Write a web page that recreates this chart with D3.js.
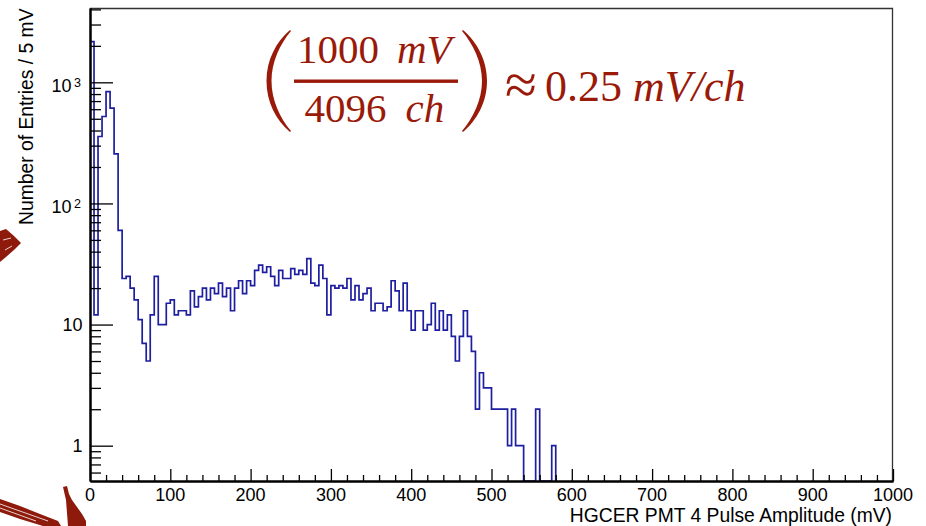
<!DOCTYPE html>
<html>
<head>
<meta charset="utf-8">
<script src="https://cdn.jsdelivr.net/npm/d3@7"></script>
<style>
  html, body { margin: 0; padding: 0; background: #ffffff; }
  svg { display: block; }
</style>
</head>
<body>
<svg id="chart" width="926" height="526"></svg>
<script>
// HGCER PMT 4 pulse amplitude spectrum, 5 mV bins starting at 0 mV.
// Bins beyond the last entry (575-1000 mV) are empty.
const binWidth = 5;
const counts = [
  2170, 12, 357, 522, 839, 612, 257, 60, 24, 25,
  20, 16, 11, 7, 5, 12, 25, 10, 10, 15,
  16, 12, 13, 13, 12, 19, 14, 17, 20, 16,
  20, 18, 22, 17, 20, 13, 20, 23, 18, 23,
  21, 28, 31, 27, 30, 25, 21, 28, 24, 24,
  29, 26, 28, 26, 35, 22, 21, 31, 24, 12,
  21, 20, 21, 20, 24, 16, 21, 16, 18, 20,
  13, 15, 15, 13, 14, 23, 19, 13, 22, 13,
  9, 13, 13, 9, 10, 15, 9, 13, 9, 12,
  8, 5, 8, 13, 8, 6, 2, 4, 3, 3,
  2, 2, 2, 2, 1, 2, 1, 1, 0, 0,
  0, 2, 0, 0, 0, 1
];

const xDomain = [0, 1000];
const yDomain = [0.511, 4107];
const xMajorTicks = [0, 100, 200, 300, 400, 500, 600, 700, 800, 900, 1000];
const xMinorTicks = d3.range(0, 1001, 20).filter(v => v % 100 !== 0);
const yMajorTicks = [1, 10, 100, 1000];
const yTickLabels = [
  { base: "1", exp: null },
  { base: "10", exp: null },
  { base: "10", exp: "2" },
  { base: "10", exp: "3" }
];
const yMinorTicks = [0.6, 0.7, 0.8, 0.9, 2, 3, 4, 5, 6, 7, 8, 9,
  20, 30, 40, 50, 60, 70, 80, 90, 200, 300, 400, 500, 600, 700, 800, 900,
  2000, 3000, 4000];

const xTitle = "HGCER PMT 4 Pulse Amplitude (mV)";
const yTitle = "Number of Entries / 5 mV";

const frame = { left: 90, right: 893, top: 8, bottom: 481 };
const axisFont = "'Liberation Sans', Arial, Helvetica, sans-serif";
const serifFont = "'Liberation Serif', 'Times New Roman', Times, serif";
const lineBlue = "#1e1ea0";
const noteRed = "#9a1a0a";

const svg = d3.select("#chart");

const x = d3.scaleLinear().domain(xDomain).range([frame.left, frame.right]);
const y = d3.scaleLog().domain(yDomain).range([frame.bottom, frame.top]);

// decorative brush strokes at the left edge
const brush = svg.append("g").attr("fill", "#8e1a0b");
brush.append("path").attr("d",
  "M0,231 L6,229 L14,236 L21,243 L15,249 L6,257 L0,262 Z");
brush.append("path").attr("d",
  "M0,499 L20,506 L40,514 L58,521 L61,526 L43,526 L20,519 L0,512 Z");
brush.append("path").attr("d",
  "M63,487 L67,486 L69,494 L72,500 L77,507 L82,514 L86,521 L86,526 L68,526 L67,513 L66,500 Z");
const streaks = svg.append("g").attr("stroke", "#ffffff").attr("stroke-width", 0.8).attr("fill", "none");
streaks.append("path").attr("d", "M0,504 L48,521");
streaks.append("path").attr("d", "M0,508 L36,521");
streaks.append("path").attr("d", "M3,240 L11,238");
streaks.append("path").attr("d", "M5,250 L12,246");

// clip for the histogram outline
svg.append("defs").append("clipPath").attr("id", "plotClip")
  .append("rect")
  .attr("x", frame.left).attr("y", frame.top)
  .attr("width", frame.right - frame.left)
  .attr("height", frame.bottom - frame.top);

// histogram outline (steps), empty bins drop to the frame bottom
const floorVal = yDomain[0];
const pts = [[0, floorVal]];
counts.forEach((c, i) => pts.push([i * binWidth, Math.max(c, floorVal)]));
pts.push([counts.length * binWidth, floorVal]);

const stepLine = d3.line()
  .x(d => x(d[0]))
  .y(d => y(d[1]))
  .curve(d3.curveStepAfter);

svg.append("path")
  .datum(pts)
  .attr("clip-path", "url(#plotClip)")
  .attr("d", stepLine)
  .attr("fill", "none")
  .attr("stroke", lineBlue)
  .attr("stroke-width", 1.7)
  .attr("stroke-linejoin", "miter");

// frame: thin top and right edges
svg.append("path")
  .attr("d", `M${frame.left},${frame.top + 0.5} L${frame.right - 0.5},${frame.top + 0.5} L${frame.right - 0.5},${frame.bottom}`)
  .attr("fill", "none")
  .attr("stroke", "#333333")
  .attr("stroke-width", 1.3);

// x axis: ticks point up into the plot
const xAxisMajor = d3.axisBottom(x).tickValues(xMajorTicks).tickSize(-12).tickSizeOuter(0).tickFormat("");
const xAxisMinor = d3.axisBottom(x).tickValues(xMinorTicks).tickSize(-6).tickSizeOuter(0).tickFormat("");
const gx = svg.append("g").attr("transform", `translate(0,${frame.bottom})`);
gx.call(xAxisMinor);
gx.append("g").call(xAxisMajor);
gx.selectAll("path.domain").attr("stroke", "#000").attr("stroke-width", 2);
gx.selectAll(".tick line").attr("stroke", "#000").attr("stroke-width", 1.3);

svg.append("g").selectAll("text").data(xMajorTicks).join("text")
  .attr("x", d => x(d))
  .attr("y", 500.5)
  .attr("text-anchor", "middle")
  .attr("font-family", axisFont)
  .attr("font-size", 18)
  .attr("fill", "#000")
  .text(d => d);

// y axis: log ticks point right into the plot
const yAxisMajor = d3.axisLeft(y).tickValues(yMajorTicks).tickSize(-23).tickSizeOuter(0).tickFormat("");
const yAxisMinor = d3.axisLeft(y).tickValues(yMinorTicks).tickSize(-11).tickSizeOuter(0).tickFormat("");
const gy = svg.append("g").attr("transform", `translate(${frame.left},0)`);
gy.call(yAxisMinor);
gy.append("g").call(yAxisMajor);
gy.selectAll("path.domain").attr("stroke", "#000").attr("stroke-width", 2);
gy.selectAll(".tick line").attr("stroke", "#000").attr("stroke-width", 1.3);

const yLab = svg.append("g")
  .attr("font-family", axisFont)
  .attr("fill", "#000");
yMajorTicks.forEach((v, i) => {
  const lab = yTickLabels[i];
  const ty = y(v);
  if (lab.exp === null) {
    yLab.append("text")
      .attr("x", 82.5).attr("y", ty + 6.6)
      .attr("text-anchor", "end")
      .attr("font-size", 18)
      .text(lab.base);
  } else {
    yLab.append("text")
      .attr("x", 71.5).attr("y", ty + 10)
      .attr("text-anchor", "end")
      .attr("font-size", 18)
      .text(lab.base);
    yLab.append("text")
      .attr("x", 81).attr("y", ty + 4.4)
      .attr("text-anchor", "end")
      .attr("font-size", 12.5)
      .text(lab.exp);
  }
});

// axis titles, right/top aligned
svg.append("text")
  .attr("x", 892).attr("y", 522)
  .attr("text-anchor", "end")
  .attr("font-family", axisFont)
  .attr("font-size", 19.3)
  .attr("fill", "#000")
  .text(xTitle);

svg.append("text")
  .attr("transform", "translate(32.5,8.5) rotate(-90)")
  .attr("text-anchor", "end")
  .attr("font-family", axisFont)
  .attr("font-size", 19.3)
  .attr("fill", "#000")
  .text(yTitle);

// conversion note: (1000 mV / 4096 ch) ≈ 0.25 mV/ch
const note = svg.append("g").attr("fill", noteRed).attr("font-family", serifFont);
note.append("path").attr("d",
  "M290,30 C276,42 266.5,60 266.5,81 C266.5,102 276,120 290,132 L291,131 C280,118 271.5,100 271.5,81 C271.5,62 280,44 291,31 Z");
note.append("path").attr("d",
  "M463,30 C477,42 487,60 487,81 C487,102 477,120 463,132 L462,131 C473,118 482,100 482,81 C482,62 473,44 462,31 Z");
note.append("rect").attr("x", 294).attr("y", 79.5).attr("width", 164).attr("height", 3.4);
note.append("text").attr("x", 297).attr("y", 62.7).attr("font-size", 41).text("1000");
note.append("text").attr("x", 397).attr("y", 62.7).attr("font-size", 41).attr("font-style", "italic").text("mV");
note.append("text").attr("x", 304.5).attr("y", 121.7).attr("font-size", 41).text("4096");
note.append("text").attr("x", 405.5).attr("y", 121.7).attr("font-size", 41).attr("font-style", "italic").text("ch");
note.append("text").attr("x", 505).attr("y", 103.5).attr("font-size", 58).text("≈");
note.append("text").attr("x", 545).attr("y", 101).attr("font-size", 44).text("0.25");
note.append("text").attr("x", 633).attr("y", 101).attr("font-size", 44).attr("font-style", "italic").text("mV/ch");
</script>
</body>
</html>
